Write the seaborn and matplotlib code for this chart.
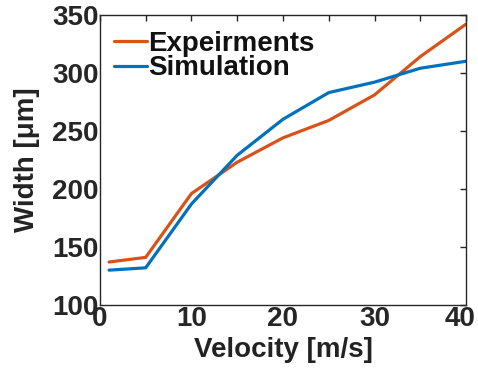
import numpy as np
import pandas as pd
import matplotlib
matplotlib.use("Agg")
import matplotlib.pyplot as plt
import matplotlib.transforms as mtransforms
import seaborn as sns

velocity = [1, 5, 10, 15, 20, 25, 30, 35, 40]
experiments = [137, 141, 196, 223, 244, 259, 281, 314, 342]
simulation = [130, 132, 187, 229, 260, 283, 292, 304, 310]
series_names = ["Expeirments", "Simulation"]
colors = ["#D95319", "#0072BD"]

df = pd.DataFrame({
    "Velocity": velocity * 2,
    "Width": experiments + simulation,
    "Series": [series_names[0]] * len(velocity) + [series_names[1]] * len(velocity),
})

sns.set_style("white")
plt.rcParams["font.family"] = ["Liberation Sans", "DejaVu Sans"]
plt.rcParams["font.weight"] = "bold"

fig, ax = plt.subplots(figsize=(4.78, 3.71), dpi=100)
sns.lineplot(data=df, x="Velocity", y="Width", hue="Series",
             palette=colors, linewidth=2.3, ax=ax)

ax.set_xlim(0, 40)
ax.set_ylim(100, 350)
ax.set_xticks(np.arange(0, 41, 5))
ax.set_xticklabels(["0", "", "10", "", "20", "", "30", "", "40"])
ax.set_yticks(np.arange(100, 351, 50))
ax.tick_params(direction="in", length=4, width=1, colors="#262626",
               top=True, right=True, labelsize=20, pad=1)
for lab in ax.get_xticklabels() + ax.get_yticklabels():
    lab.set_fontweight("bold")
# nudge the last x label left so it stays inside the figure
last = ax.get_xticklabels()[-1]
last.set_transform(last.get_transform()
                   + mtransforms.ScaledTranslation(-6 / 100, 0, fig.dpi_scale_trans))
for s in ax.spines.values():
    s.set_color("#262626")
    s.set_linewidth(1)

ax.set_xlabel("Velocity [m/s]", fontsize=20, fontweight="bold", labelpad=3,
              color="#222222")
ax.set_ylabel("Width [\u03bcm]", fontsize=20, fontweight="bold", labelpad=9,
              color="#222222")

leg = ax.legend(loc="upper left", bbox_to_anchor=(0.03, 0.955), frameon=False,
                fontsize=20, handlelength=1.2, handletextpad=0.05,
                borderaxespad=0.0, labelspacing=-0.05, borderpad=0.1)
for t in leg.get_texts():
    t.set_fontweight("bold")
    t.set_color("#111111")

fig.subplots_adjust(left=0.209, right=0.975, top=0.96, bottom=0.178)
fig.savefig("out.png", dpi=100)
